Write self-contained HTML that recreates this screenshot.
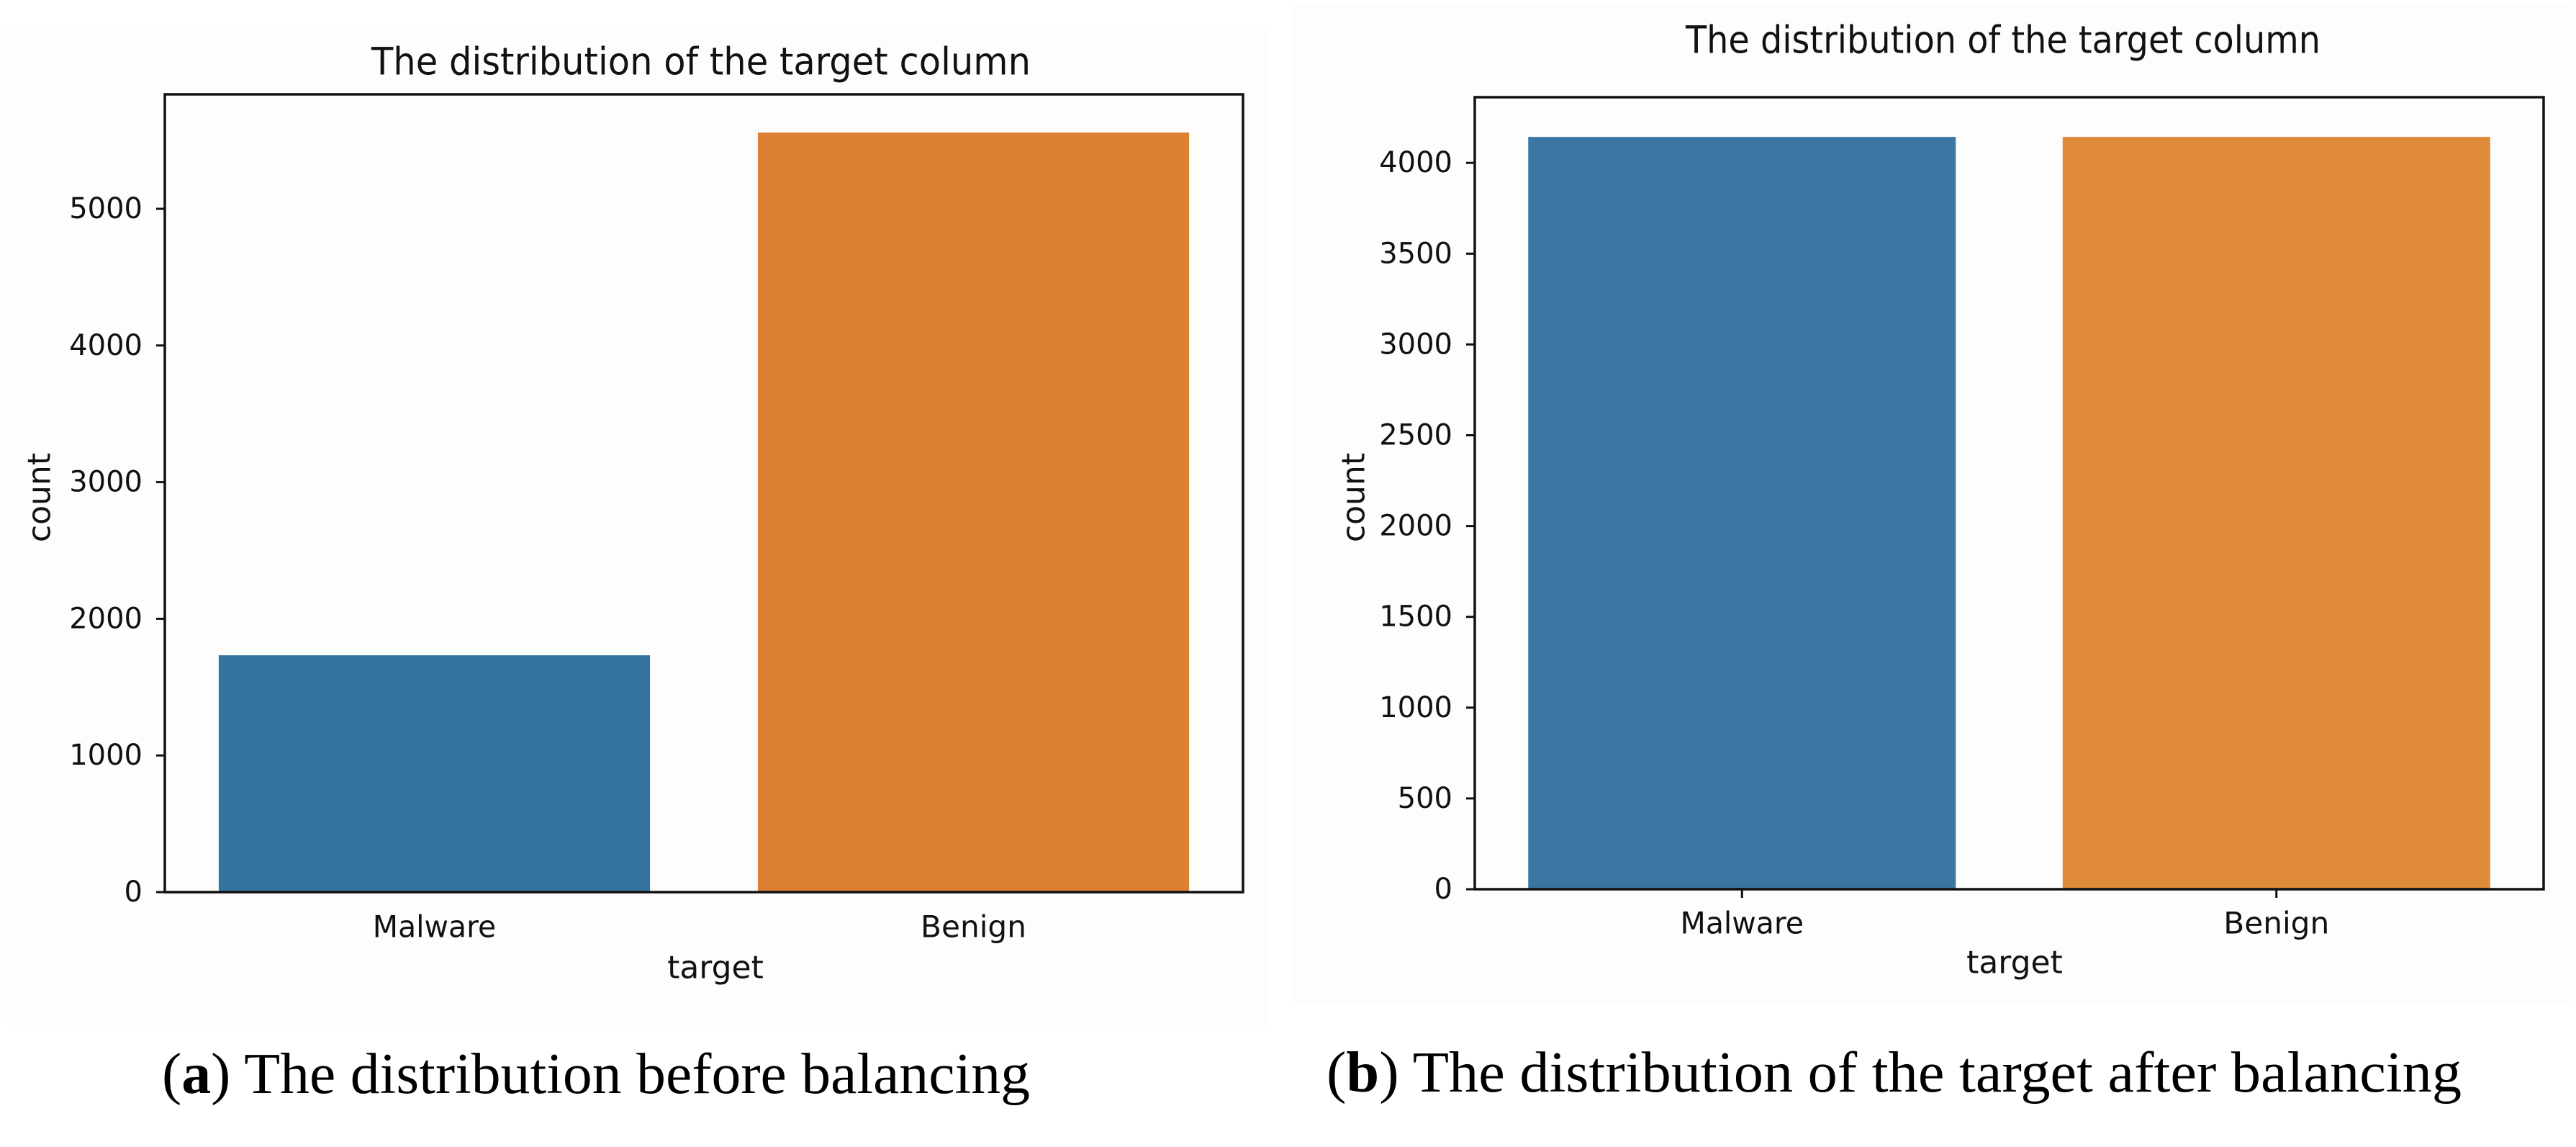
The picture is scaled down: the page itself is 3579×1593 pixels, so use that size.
<!DOCTYPE html>
<html><head><meta charset="utf-8">
<style>
html,body{margin:0;padding:0;background:#fff;}
svg{display:block;}
text{font-family:"DejaVu Sans","Liberation Sans",sans-serif;fill:#111;}
.cap{font-family:"Liberation Serif","DejaVu Serif",serif;fill:#000;}
</style></head>
<body>
<svg id="fig" width="3579" height="1593" viewBox="0 0 3579 1593" xmlns="http://www.w3.org/2000/svg">
<rect x="0" y="0" width="3579" height="1593" fill="#ffffff"/>
<rect x="10" y="35" width="1750" height="1390" fill="#fdfdfd"/>
<rect x="1795" y="5" width="1775" height="1390" fill="#fdfdfd"/>
<g id="panelA"></g>
<g id="panelB"></g>
<text class="cap" x="225" y="1518" font-size="80" textLength="1206" lengthAdjust="spacingAndGlyphs">(<tspan font-weight="bold">a</tspan>) The distribution before balancing</text>
<text class="cap" x="1843" y="1516" font-size="80" textLength="1577" lengthAdjust="spacingAndGlyphs">(<tspan font-weight="bold">b</tspan>) The distribution of the target after balancing</text>
</svg>
<script>
const categoriesA = ["Malware", "Benign"];
const valuesA = [1733, 5558];
const ticksA = [0, 1000, 2000, 3000, 4000, 5000];
const categoriesB = ["Malware", "Benign"];
const valuesB = [4143, 4143];
const ticksB = [0, 500, 1000, 1500, 2000, 2500, 3000, 3500, 4000];
const colorsA = ["#3674a0", "#dd8033"];
const colorsB = ["#3a76a1", "#df8b3b"];
const NS = "http://www.w3.org/2000/svg";

function mk(parent, tag, attrs) {
  const el = document.createElementNS(NS, tag);
  for (const k in attrs) el.setAttribute(k, attrs[k]);
  parent.appendChild(el);
  return el;
}

function draw(g, cfg, cats, vals, ticks, colors, suffix) {
  const yScale = v => cfg.bottom - (v - 0) * cfg.pxPerUnit;
  const band = (cfg.right - cfg.left) / cats.length;
  const xCenter = i => cfg.left + band * (i + 0.5);
  const barW = band * 0.8;

  const t = mk(g, "text", {x: cfg.titleX, y: cfg.titleY, "font-size": 53, "text-anchor": "middle", "dominant-baseline": "central", textLength: cfg.titleW, lengthAdjust: "spacingAndGlyphs"});
  t.textContent = "The distribution of the target column";
  
  

  cats.forEach((c, i) => {
    const y = yScale(vals[i]);
    const r = mk(g, "rect", {x: xCenter(i) - barW / 2, y: y, width: barW, height: cfg.bottom - y, fill: colors[i]});
    
    
    const lb = mk(g, "text", {x: xCenter(i), y: cfg.catY, "font-size": 42, "text-anchor": "middle", "dominant-baseline": "central", textLength: c.length * 24.5, lengthAdjust: "spacingAndGlyphs"});
    lb.textContent = c;
    
    
    if (cfg.xTicks) {
      const tk = mk(g, "line", {x1: xCenter(i), x2: xCenter(i), y1: cfg.bottom, y2: cfg.bottom + 12, stroke: "#111", "stroke-width": 3});
      
      
    }
  });

  ticks.forEach(v => {
    const y = yScale(v);
    const tk = mk(g, "line", {x1: cfg.left - 12, x2: cfg.left, y1: y, y2: y, stroke: "#111", "stroke-width": 3});
    
    
    const lb = mk(g, "text", {x: cfg.tickRight, y: y, "font-size": 40, "text-anchor": "end", "dominant-baseline": "central"});
    lb.textContent = String(v);
    
    
  });

  const fr = mk(g, "rect", {x: cfg.left, y: cfg.top, width: cfg.right - cfg.left, height: cfg.bottom - cfg.top, fill: "none", stroke: "#111", "stroke-width": 3.5});
  
  

  const xl = mk(g, "text", {x: cfg.xlabX, y: cfg.xlabY, "font-size": 44, "text-anchor": "middle", "dominant-baseline": "central"});
  xl.textContent = "target";
  
  

  const yl = mk(g, "text", {x: 0, y: 0, "font-size": 44, "text-anchor": "middle", "dominant-baseline": "central", transform: "translate(" + cfg.ylabX + "," + cfg.ylabY + ") rotate(-90)"});
  yl.textContent = "count";
  
  
}

draw(document.getElementById("panelA"),
  {left: 229, right: 1727, top: 131, bottom: 1239, pxPerUnit: 0.1898, titleX: 974, titleY: 86, titleW: 916,
   catY: 1287, tickRight: 198, xlabX: 994, xlabY: 1344, ylabX: 55, ylabY: 691, xTicks: false},
  categoriesA, valuesA, ticksA, colorsA, "a");

draw(document.getElementById("panelB"),
  {left: 2049, right: 3534, top: 135, bottom: 1235, pxPerUnit: 0.2522, titleX: 2783, titleY: 56, titleW: 882,
   catY: 1282, tickRight: 2018, xlabX: 2799, xlabY: 1337, ylabX: 1881, ylabY: 691, xTicks: true},
  categoriesB, valuesB, ticksB, colorsB, "b");
</script>
</body></html>
